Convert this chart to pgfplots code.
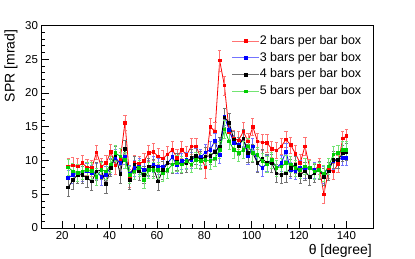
\documentclass[border=0pt]{standalone}
\usepackage{pgfplots}
\pgfplotsset{compat=1.18}
\usepackage{pgfplotstable}
\usepackage{fontspec}
\setmainfont{Liberation Sans}
\definecolor{rgreen}{RGB}{0,205,0}

\pgfplotstableread{
x y e
22.5 9.1 1.3
24.5 9.3 1.2
26.5 9.1 1.2
28.5 9.6 1.2
30.5 9.0 1.2
32.5 8.9 1.2
34.5 11.2 1.0
36.5 9.1 1.2
38.5 9.6 1.2
40.5 11.3 1.1
42.5 9.3 1.3
44.5 10.1 1.2
46.5 15.6 1.1
48.5 7.4 1.3
50.5 9.6 1.2
52.5 9.5 1.2
54.5 9.9 1.2
56.5 11.1 1.2
58.5 11.3 1.2
60.5 10.6 1.2
62.5 10.3 1.2
64.5 10.9 1.2
66.5 11.6 1.3
68.5 10.4 1.2
70.5 11.6 1.2
72.5 10.8 1.3
74.5 12.1 1.2
76.5 12.1 1.2
78.5 10.5 1.2
80.5 9.0 1.6
82.5 15.0 1.3
84.5 14.3 1.3
86.5 24.8 1.6
88.5 21.1 1.4
90.5 14.2 1.3
92.5 13.2 1.3
94.5 13.0 1.3
96.5 14.3 1.3
98.5 12.8 1.2
100.5 15.0 1.3
102.5 12.8 1.2
104.5 12.7 1.2
106.5 12.6 1.3
108.5 11.7 1.2
110.5 11.5 1.2
112.5 12.1 1.2
114.5 13.1 1.2
116.5 12.3 1.2
118.5 11.0 1.2
120.5 9.6 1.3
122.5 12.1 1.3
124.5 9.0 1.2
126.5 8.6 1.2
128.5 9.2 1.2
130.5 5.0 1.3
132.5 8.6 1.2
134.5 8.4 1.2
136.5 9.5 1.3
138.5 13.3 1.0
140.0 13.6 1.0
}\redtab

\pgfplotstableread{
x y e
22.5 7.4 1.2
24.5 7.9 1.2
26.5 8.1 1.2
28.5 8.2 1.2
30.5 8.4 1.2
32.5 8.1 1.2
34.5 8.4 1.2
36.5 7.6 1.2
38.5 7.9 1.2
40.5 9.1 1.2
42.5 10.4 1.2
44.5 9.6 1.2
46.5 10.6 1.2
48.5 8.1 1.2
50.5 8.9 1.2
52.5 9.1 1.2
54.5 8.6 1.2
56.5 8.9 1.2
58.5 9.4 1.2
60.5 9.1 1.2
62.5 9.1 1.2
64.5 9.6 1.2
66.5 10.5 1.2
68.5 9.3 1.2
70.5 9.9 1.2
72.5 10.1 1.2
74.5 10.1 1.2
76.5 10.6 1.2
78.5 10.5 1.2
80.5 11.2 1.2
82.5 11.6 1.2
84.5 12.9 1.2
86.5 10.8 1.2
88.5 16.5 1.3
90.5 14.5 1.3
92.5 12.6 1.2
94.5 12.3 1.2
96.5 13.3 1.2
98.5 10.6 1.2
100.5 12.1 1.2
102.5 9.6 1.2
104.5 8.9 1.2
106.5 9.6 1.2
108.5 10.1 1.2
110.5 8.9 1.2
112.5 9.6 1.2
114.5 11.3 1.2
116.5 8.6 1.2
118.5 8.4 1.2
120.5 8.9 1.2
122.5 8.6 1.2
124.5 8.9 1.2
126.5 8.6 1.2
128.5 8.6 1.2
130.5 7.9 1.2
132.5 9.1 1.2
134.5 9.9 1.2
136.5 10.1 1.2
138.5 10.4 1.1
140.0 10.4 1.1
}\bluetab

\pgfplotstableread{
x y e
22.5 6.0 1.3
24.5 7.1 1.3
26.5 7.9 1.3
28.5 7.9 1.3
30.5 7.4 1.3
32.5 6.9 1.3
34.5 8.4 1.3
36.5 8.6 1.3
38.5 6.5 1.3
40.5 8.9 1.3
42.5 10.8 1.3
44.5 8.0 1.3
46.5 11.7 1.3
48.5 7.1 1.3
50.5 9.4 1.3
52.5 8.4 1.3
54.5 7.9 1.3
56.5 9.1 1.3
58.5 8.9 1.3
60.5 6.9 1.3
62.5 8.6 1.3
64.5 9.6 1.3
66.5 9.4 1.3
68.5 9.8 1.3
70.5 9.4 1.3
72.5 9.6 1.3
74.5 10.4 1.3
76.5 10.7 1.3
78.5 10.1 1.3
80.5 10.6 1.3
82.5 10.7 1.3
84.5 11.3 1.3
86.5 12.1 1.3
88.5 16.4 1.4
90.5 15.6 1.4
92.5 13.1 1.3
94.5 12.1 1.3
96.5 13.3 1.3
98.5 11.1 1.3
100.5 11.1 1.3
102.5 9.6 1.3
104.5 10.3 1.3
106.5 9.6 1.3
108.5 9.6 1.3
110.5 8.1 1.3
112.5 7.9 1.3
114.5 8.1 1.3
116.5 8.9 1.3
118.5 9.4 1.3
120.5 7.9 1.3
122.5 8.4 1.3
124.5 7.6 1.3
126.5 8.1 1.3
128.5 8.6 1.3
130.5 7.6 1.3
132.5 8.4 1.3
134.5 10.1 1.3
136.5 10.1 1.3
138.5 11.1 1.2
140.0 11.3 1.2
}\blacktab

\pgfplotstableread{
x y e
22.5 9.0 1.2
24.5 8.4 1.2
26.5 8.2 1.2
28.5 8.4 1.2
30.5 8.6 1.2
32.5 8.5 1.2
34.5 7.6 1.2
36.5 8.6 1.2
38.5 8.4 1.2
40.5 9.4 1.2
42.5 11.1 1.2
44.5 10.6 1.2
46.5 10.1 1.2
48.5 7.9 1.2
50.5 8.4 1.2
52.5 8.9 1.2
54.5 7.1 1.2
56.5 8.6 1.2
58.5 8.6 1.2
60.5 8.6 1.2
62.5 8.1 1.2
64.5 8.6 1.2
66.5 9.4 1.2
68.5 9.6 1.2
70.5 9.4 1.2
72.5 9.9 1.2
74.5 9.4 1.2
76.5 10.1 1.2
78.5 9.9 1.2
80.5 10.1 1.2
82.5 9.9 1.2
84.5 10.3 1.2
86.5 11.6 1.2
88.5 14.6 1.3
90.5 12.8 1.2
92.5 11.6 1.2
94.5 11.1 1.2
96.5 11.6 1.2
98.5 12.1 1.2
100.5 11.1 1.2
102.5 10.8 1.2
104.5 9.9 1.2
106.5 9.4 1.2
108.5 10.1 1.2
110.5 8.9 1.2
112.5 9.1 1.2
114.5 9.6 1.2
116.5 9.4 1.2
118.5 8.9 1.2
120.5 8.6 1.2
122.5 9.1 1.2
124.5 8.9 1.2
126.5 8.4 1.2
128.5 8.6 1.2
130.5 8.1 1.2
132.5 9.1 1.2
134.5 10.9 1.2
136.5 11.1 1.2
138.5 11.6 1.2
140.0 11.6 1.2
}\greentab

\begin{document}
\begin{tikzpicture}
\begin{axis}[
  name=ax,
  scale only axis,
  width=331.5pt, height=202.5pt,
  xmin=11.25, xmax=151.25,
  ymin=0, ymax=30,
  xtick={20,40,...,140},
  ytick={0,5,...,30},
  minor x tick num=3,
  minor y tick num=4,
  xtick pos=left, ytick pos=left,
  tick align=inside,
  major tick length=7pt,
  minor tick length=3.5pt,
  every tick/.style={black, line width=0.7pt},
  axis line style={line width=0.8pt},
  tick label style={font=\fontsize{11.5}{12}\selectfont},
  /pgf/number format/assume math mode=true,
  xlabel={θ [degree]},
  ylabel={SPR [mrad]},
  label style={font=\fontsize{14}{16}\selectfont},
  xlabel style={at={(ticklabel cs:1)}, anchor=north east, inner sep=1pt},
  ylabel style={at={(ticklabel cs:1)}, anchor=south east, inner sep=4pt},
  legend style={at={(rel axis cs:0.565,0.965)}, anchor=north west, draw=none, fill=none,
    font=\fontsize{12.5}{14}\selectfont, row sep=4.3pt,
    nodes={inner sep=0pt, text height=9.5pt, text depth=3pt, anchor=west}},
  legend cell align=left,
  legend image code/.code={%
    \draw[#1, opacity=0.55, mark=none] (0pt,0pt) -- (27pt,0pt);
    \draw[#1, draw=none] plot coordinates {(13.5pt,0pt)};
    \hspace{4pt}},
  error bars/y dir=both, error bars/y explicit,
  error bars/error mark options={mark size=1.6pt, rotate=90},
]
\addplot[red, line width=0.8pt, mark=square*, mark size=1.3pt,
  error bars/error bar style={red!55, line width=0.7pt}]
  table[x=x, y=y, y error=e] {\redtab};
\addlegendentry{2 bars per bar box}
\addplot[blue, line width=0.8pt, mark=square*, mark size=1.3pt,
  error bars/error bar style={blue!55, line width=0.7pt}]
  table[x=x, y=y, y error=e] {\bluetab};
\addlegendentry{3 bars per bar box}
\addplot[black, line width=0.8pt, mark=square*, mark size=1.3pt,
  error bars/error bar style={black!55, line width=0.7pt}]
  table[x=x, y=y, y error=e] {\blacktab};
\addlegendentry{4 bars per bar box}
\addplot[rgreen, line width=0.8pt, mark=square*, mark size=1.3pt,
  error bars/error bar style={rgreen!55, line width=0.7pt}]
  table[x=x, y=y, y error=e] {\greentab};
\addlegendentry{5 bars per bar box}
\end{axis}
\pgfresetboundingbox
\path[use as bounding box] ([shift={(-41.5pt,-31pt)}]ax.south west) rectangle ([shift={(42pt,25.5pt)}]ax.north east);
\end{tikzpicture}
\end{document}
